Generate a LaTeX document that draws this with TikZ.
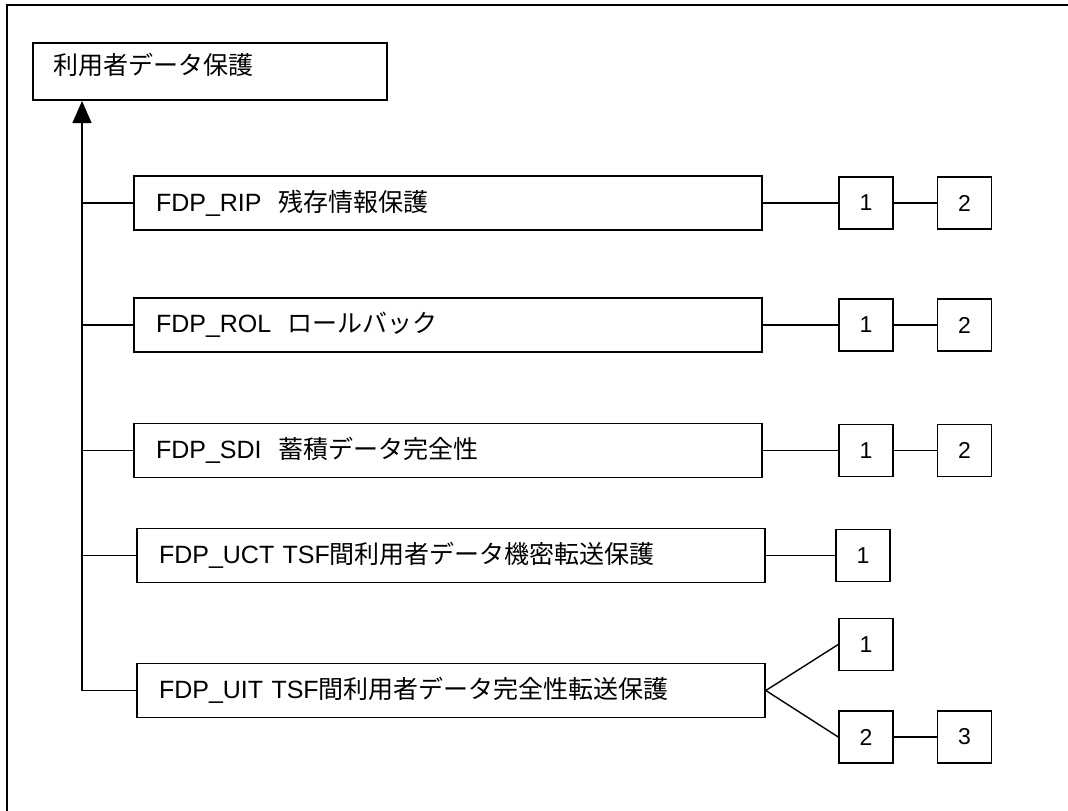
\documentclass[tikz,border=0pt]{standalone}
\usepackage{fontspec}
\setmainfont{Liberation Sans}
\newfontfamily\jp{Noto Sans CJK JP}
\usetikzlibrary{arrows.meta}
\begin{document}
\begin{tikzpicture}[x=1pt,y=-1pt,
  box/.style={draw, line width=1.6pt, inner sep=0pt},
  mainbox/.style={box, minimum width=628pt, minimum height=54pt, inner xsep=22pt, text width=584pt, align=left, font=\fontsize{25}{30}\selectfont},
  numbox/.style={box, minimum width=54pt, minimum height=52pt, font=\fontsize{23}{27}\selectfont},
  conn/.style={line width=1.4pt},
  frame/.style={line width=2pt},
]
\useasboundingbox (0,0) rectangle (1068,811);
% outer frame (top and left)
\coordinate (fr1) at (1068,5);
\coordinate (fr2) at (7,5);
\coordinate (fr3) at (7,811);
\draw[frame] (fr1) -- (fr2) -- (fr3);

% title
\node[box, minimum width=354pt, minimum height=57pt] (title) at (210,71.5) {};
\node[anchor=west, inner sep=0pt, font=\fontsize{25}{30}\selectfont] (titletext) at (53,65) {\jp 利用者データ保護};

% main boxes
\node[mainbox] (rip) at (448,203) {FDP\_RIP\ \ {\jp 残存情報保護}};
\node[mainbox] (rol) at (448,325) {FDP\_ROL\ \ {\jp ロールバック}};
\node[mainbox] (sdi) at (448,450.5) {FDP\_SDI\ \ {\jp 蓄積データ完全性}};
\node[mainbox] (uct) at (451,555.5) {FDP\_UCT TSF{\jp 間利用者データ機密転送保護}};
\node[mainbox] (uit) at (451,690.5) {FDP\_UIT TSF{\jp 間利用者データ完全性転送保護}};

% number boxes
\node[numbox] (rip1) at (866,203) {1};
\node[numbox] (rip2) at (964.5,203) {2};
\node[numbox] (rol1) at (866,325) {1};
\node[numbox] (rol2) at (964.5,325) {2};
\node[numbox] (sdi1) at (866,450.5) {1};
\node[numbox] (sdi2) at (964.5,450.5) {2};
\node[numbox] (uct1) at (863,555.5) {1};
\node[numbox] (uit1) at (866,644.5) {1};
\node[numbox] (uit2) at (866,737) {2};
\node[numbox] (uit3) at (964.5,737) {3};

% trunk
\coordinate (trtop) at (82,101);
\coordinate (trbot) at (82,690.5);
\draw[conn, -{Triangle[width=19pt,length=22pt]}] (uit.west) -- (trbot) -- (trtop);
\draw[conn] (rip.west) -- (rip.west -| trbot);
\draw[conn] (rol.west) -- (rol.west -| trbot);
\draw[conn] (sdi.west) -- (sdi.west -| trbot);
\draw[conn] (uct.west) -- (uct.west -| trbot);

% right connectors
\draw[conn] (rip.east) -- (rip1.west);
\draw[conn] (rip1.east) -- (rip2.west);
\draw[conn] (rol.east) -- (rol1.west);
\draw[conn] (rol1.east) -- (rol2.west);
\draw[conn] (sdi.east) -- (sdi1.west);
\draw[conn] (sdi1.east) -- (sdi2.west);
\draw[conn] (uct.east) -- (uct1.west);
\draw[conn] (uit.east) -- (uit1.west);
\draw[conn] (uit.east) -- (uit2.west);
\draw[conn] (uit2.east) -- (uit3.west);
\end{tikzpicture}
\end{document}
